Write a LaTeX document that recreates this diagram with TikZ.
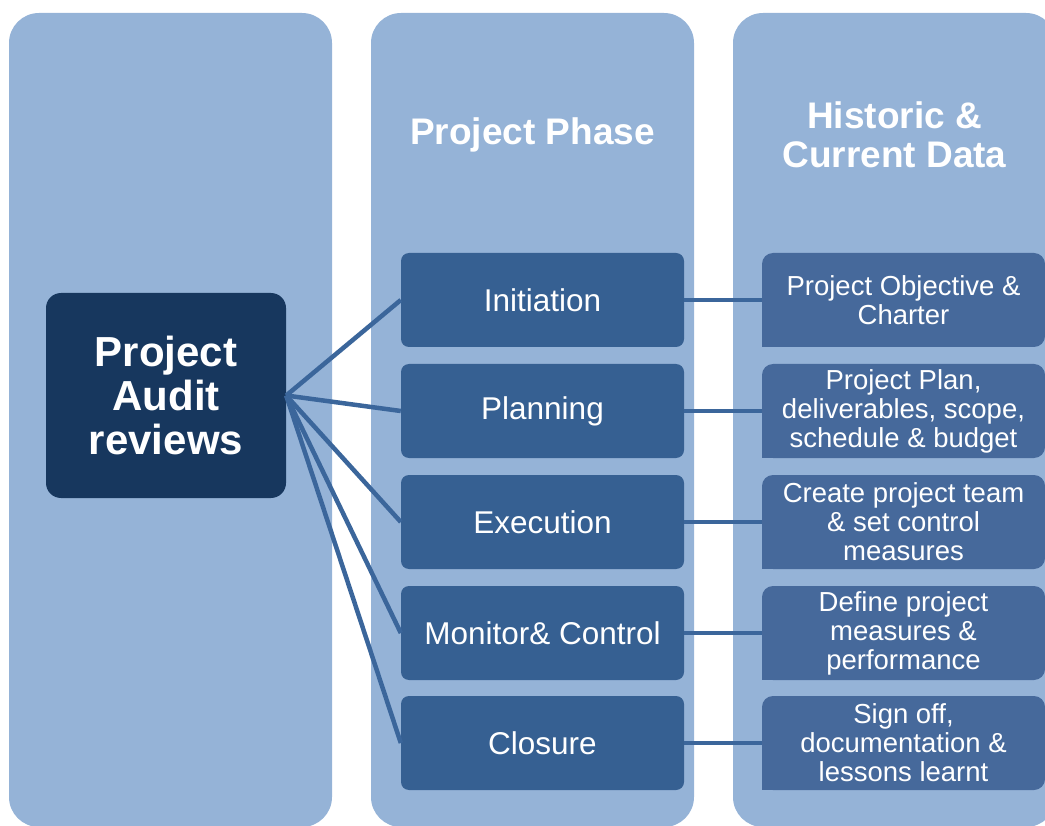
\documentclass[tikz,border=0pt]{standalone}
\usepackage{fontspec}
\setmainfont{Liberation Sans}
\usetikzlibrary{calc}
\definecolor{panelblue}{HTML}{95B3D7}
\definecolor{auditblue}{HTML}{17375E}
\definecolor{phaseblue}{HTML}{366092}
\definecolor{datablue}{HTML}{46699B}
\definecolor{linkblue}{HTML}{3B669B}
\tikzset{
  panel/.style={fill=panelblue, rounded corners=30pt},
  phase/.style={fill=phaseblue, rounded corners=8pt, text=white, minimum width=283pt, minimum height=94pt, font={\fontsize{31.5}{36}\selectfont}},
  data/.style={fill=datablue, rounded corners=11pt, text=white, minimum width=283pt, minimum height=94pt, align=center, inner sep=0pt, font={\fontsize{27.5}{29}\selectfont}},
  heading/.style={text=white, align=center, font={\fontsize{37}{39}\selectfont\bfseries}},
  link/.style={draw=linkblue, line width=4.5pt}
}

\begin{document}
\begin{tikzpicture}[x=1pt, y=-1pt]
		%%%%% START %%%%%
		\useasboundingbox (0, 0) rectangle (1045, 826);
		\clip (0, 0) rectangle (1045, 826);
		
		\fill[panel] (9, 13) rectangle (332, 827);
		\fill[panel] (371, 13) rectangle (694, 827);
		\fill[panel] (733, 13) rectangle (1056, 827);
		
		\node[heading] (phasehead) at (532.5, 135) {Project Phase};
		\node[heading] (datahead) at (894.5, 135) {Historic \&\\Current Data};
		
		\node[fill=auditblue, rounded corners=15pt, text=white, minimum width=240pt, minimum height=205pt, align=center, font={\fontsize{42}{44}\selectfont\bfseries}] (audit) at (166, 395.5) {Project\\Audit\\reviews};
		
		\node[phase] (init) at (542.5, 300) {Initiation};
		\node[phase] (plan) at (542.5, 411) {Planning};
		\node[phase] (exec) at (542.5, 522) {Execution};
		\node[phase] (mon) at (542.5, 633) {Monitor\& Control};
		\node[phase] (close) at (542.5, 743) {Closure};
		
		\node[data] (charter) at (903.5, 300) {Project Objective \&\\Charter};
		\node[data] (budget) at (903.5, 411) {Project Plan,\\deliverables, scope,\\schedule \& budget};
		\node[data] (team) at (903.5, 522) {Create project team\\\& set control\\measures};
		\node[data] (perf) at (903.5, 633) {Define project\\measures \&\\performance};
		\node[data] (lessons) at (903.5, 743) {Sign off,\\documentation \&\\lessons learnt};
		
		% square lower left corners
		\fill[datablue] (charter.south west) rectangle ++(12, -12);
		\fill[datablue] (budget.south west) rectangle ++(12, -12);
		\fill[datablue] (team.south west) rectangle ++(12, -12);
		\fill[datablue] (perf.south west) rectangle ++(12, -12);
		\fill[datablue] (lessons.south west) rectangle ++(12, -12);
		
		\draw[link] (audit.east) -- (init.west);
		\draw[link] (audit.east) -- (plan.west);
		\draw[link] (audit.east) -- (exec.west);
		\draw[link] (audit.east) -- (mon.west);
		\draw[link] (audit.east) -- (close.west);
		
		\draw[link] (init.east) -- (charter.west);
		\draw[link] (plan.east) -- (budget.west);
		\draw[link] (exec.east) -- (team.west);
		\draw[link] (mon.east) -- (perf.west);
		\draw[link] (close.east) -- (lessons.west);
		%%%%% END %%%%%
	\end{tikzpicture}
\end{document}
